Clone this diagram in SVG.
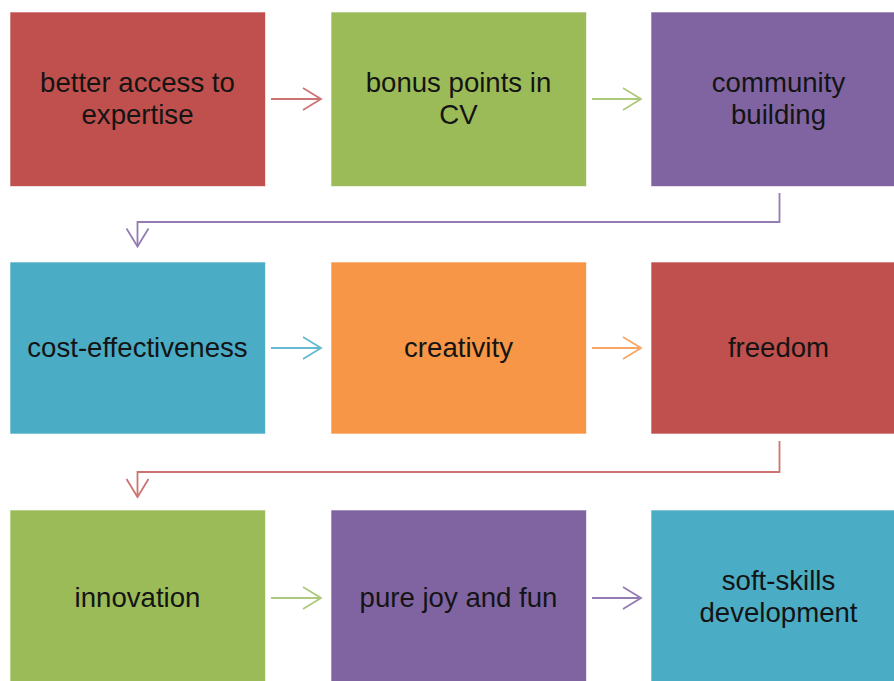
<svg xmlns="http://www.w3.org/2000/svg" width="894" height="681" viewBox="0 0 894 681">
<defs>
<style>
.box{stroke:#ffffff;stroke-opacity:0.6;stroke-width:1}
.lbl{font-family:"Liberation Sans",Arial,sans-serif;font-size:27.6px;fill:#141414;text-anchor:middle}
.conn{fill:none;stroke-width:1.8;stroke-linejoin:miter}
.red{fill:#C0504D}.green{fill:#9BBB59}.purple{fill:#8064A2}.teal{fill:#4BACC6}.orange{fill:#F79646}
</style>
<marker id="mRed" markerUnits="userSpaceOnUse" viewBox="-20 -13 22 26" refX="0" refY="0" markerWidth="22" markerHeight="26" orient="auto" overflow="visible"><path d="M-18,-11 L0,0 L-18,11" fill="none" stroke="#CD7472" stroke-width="1.8"/></marker>
<marker id="mGreen" markerUnits="userSpaceOnUse" viewBox="-20 -13 22 26" refX="0" refY="0" markerWidth="22" markerHeight="26" orient="auto" overflow="visible"><path d="M-18,-11 L0,0 L-18,11" fill="none" stroke="#AEC87C" stroke-width="1.8"/></marker>
<marker id="mPurple" markerUnits="userSpaceOnUse" viewBox="-20 -13 22 26" refX="0" refY="0" markerWidth="22" markerHeight="26" orient="auto" overflow="visible"><path d="M-18,-11 L0,0 L-18,11" fill="none" stroke="#937CB2" stroke-width="1.8"/></marker>
<marker id="mTeal" markerUnits="userSpaceOnUse" viewBox="-20 -13 22 26" refX="0" refY="0" markerWidth="22" markerHeight="26" orient="auto" overflow="visible"><path d="M-18,-11 L0,0 L-18,11" fill="none" stroke="#66B9D0" stroke-width="1.8"/></marker>
<marker id="mOrange" markerUnits="userSpaceOnUse" viewBox="-20 -13 22 26" refX="0" refY="0" markerWidth="22" markerHeight="26" orient="auto" overflow="visible"><path d="M-18,-11 L0,0 L-18,11" fill="none" stroke="#F8A766" stroke-width="1.8"/></marker>
</defs>
<rect width="894" height="681" fill="#ffffff"/>
<g id="connectors">
<path class="conn" d="M271,99 L321,99" stroke="#CD7472" marker-end="url(#mRed)"/>
<path class="conn" d="M592,99 L641,99" stroke="#AEC87C" marker-end="url(#mGreen)"/>
<path class="conn" d="M779.5,193 L779.5,222 L137.5,222 L137.5,246.5" stroke="#937CB2" marker-end="url(#mPurple)"/>
<path class="conn" d="M271,348 L321,348" stroke="#66B9D0" marker-end="url(#mTeal)"/>
<path class="conn" d="M592,348 L641,348" stroke="#F8A766" marker-end="url(#mOrange)"/>
<path class="conn" d="M779.5,441 L779.5,472 L137.5,472 L137.5,497" stroke="#CD7472" marker-end="url(#mRed)"/>
<path class="conn" d="M271,598 L321,598" stroke="#AEC87C" marker-end="url(#mGreen)"/>
<path class="conn" d="M592,598 L641,598" stroke="#937CB2" marker-end="url(#mPurple)"/>
</g>
<g id="n1"><rect class="box red" x="10" y="12" width="255.5" height="174.5"/><text class="lbl" x="137.5" y="92">better access to</text><text class="lbl" x="137.5" y="124">expertise</text></g>
<g id="n2"><rect class="box green" x="331" y="12" width="255.5" height="174.5"/><text class="lbl" x="458.5" y="92">bonus points in</text><text class="lbl" x="458.5" y="124">CV</text></g>
<g id="n3"><rect class="box purple" x="651" y="12" width="255.5" height="174.5"/><text class="lbl" x="778.5" y="92">community</text><text class="lbl" x="778.5" y="124">building</text></g>
<g id="n4"><rect class="box teal" x="10" y="262" width="255.5" height="172"/><text class="lbl" x="137.5" y="357">cost-effectiveness</text></g>
<g id="n5"><rect class="box orange" x="331" y="262" width="255.5" height="172"/><text class="lbl" x="458.5" y="357">creativity</text></g>
<g id="n6"><rect class="box red" x="651" y="262" width="255.5" height="172"/><text class="lbl" x="778.5" y="357">freedom</text></g>
<g id="n7"><rect class="box green" x="10" y="510" width="255.5" height="174"/><text class="lbl" x="137.5" y="607">innovation</text></g>
<g id="n8"><rect class="box purple" x="331" y="510" width="255.5" height="174"/><text class="lbl" x="458.5" y="607">pure joy and fun</text></g>
<g id="n9"><rect class="box teal" x="651" y="510" width="255.5" height="174"/><text class="lbl" x="778.5" y="590">soft-skills</text><text class="lbl" x="778.5" y="622">development</text></g>
</svg>
